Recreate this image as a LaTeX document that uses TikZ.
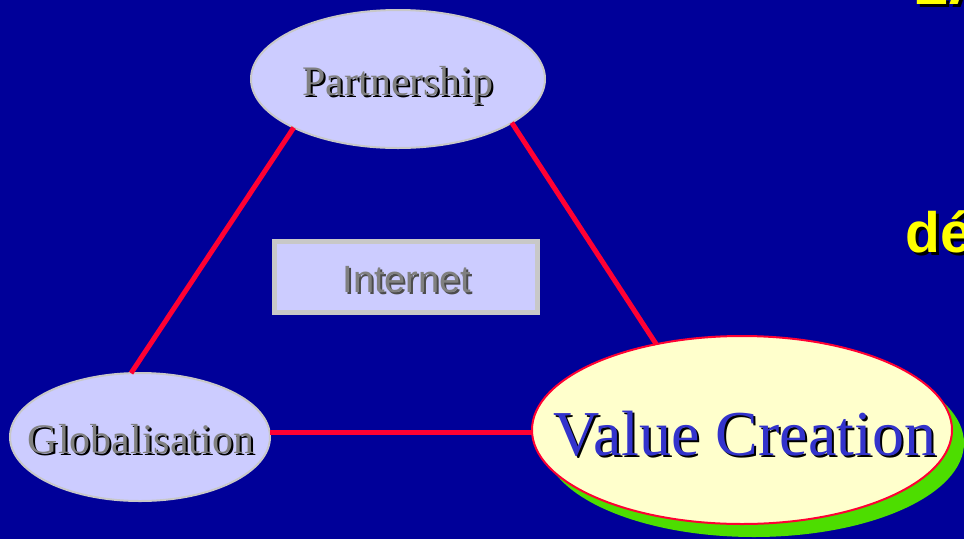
\documentclass[tikz,border=0pt]{standalone}
\usepackage{fontspec}
\setmainfont{Liberation Serif}
\newfontfamily\arialfont{Liberation Sans}
\usetikzlibrary{shapes.geometric}
\definecolor{bg}{RGB}{0,0,153}
\definecolor{lav}{RGB}{204,204,255}
\definecolor{cream}{RGB}{255,255,204}
\definecolor{redline}{RGB}{255,0,51}
\definecolor{greenshadow}{RGB}{77,221,0}
\definecolor{bordergray}{RGB}{200,200,200}
\definecolor{textgray}{RGB}{128,128,128}
\definecolor{vcblue}{RGB}{51,51,204}
\definecolor{ylw}{RGB}{255,255,0}
\tikzset{
  lavell/.style={ellipse, fill=lav, draw=bordergray, line width=2pt, inner sep=0pt, outer sep=0pt},
  link/.style={draw=redline, line width=5pt},
  lbl/.style={inner sep=0pt, anchor=base},
  serif42/.style={font=\fontsize{42}{48}\selectfont},
  serif64/.style={font=\fontsize{64}{72}\selectfont},
  sans38/.style={font=\arialfont\fontsize{38}{44}\selectfont},
  title/.style={font=\arialfont\bfseries\fontsize{57}{64}\selectfont, inner sep=0pt, anchor=base west},
}
\begin{document}
\begin{tikzpicture}[x=1pt,y=-1pt]
\useasboundingbox (0,0) rectangle (964,539);
\clip (0,0) rectangle (964,539);
\fill[bg] (0,0) rectangle (964,539);

% partial yellow title text
\node[title, text=black] at (916,7) {LA};
\node[title, text=ylw] at (913,4) {LA};
\node[title, text=black] at (908,255) {dé};
\node[title, text=ylw] at (905,252) {dé};

% nodes
\node[lavell, minimum width=294pt, minimum height=138pt] (p) at (398,79) {};
\node[lavell, minimum width=260pt, minimum height=128pt] (g) at (140,437) {};
\node[ellipse, fill=greenshadow, inner sep=0pt, outer sep=0pt, minimum width=420pt, minimum height=188pt] (vs) at (754,443) {};
\node[ellipse, fill=cream, draw=redline, line width=2pt, inner sep=0pt, outer sep=0pt, minimum width=420pt, minimum height=188pt] (v) at (742,430) {};
\node[rectangle, fill=lav, draw=bordergray, line width=5pt, inner sep=0pt, outer sep=0pt, minimum width=263pt, minimum height=71pt] (i) at (406,277) {};

% connectors
\draw[link] (p.205) -- (g.98);
\draw[link] (p.339) -- (v.135.6);
\draw[link] (g.2) -- (g.2 -| v.west);

% labels with shadows
\node[lbl, serif42, text=black] at (400,97) {Partnership};
\node[lbl, serif42, text=textgray] at (398,95) {Partnership};
\node[lbl, serif42, text=black] at (143,455) {Globalisation};
\node[lbl, serif42, text=textgray] at (141,453) {Globalisation};
\node[lbl, serif64, text=black] at (747,457) {Value Creation};
\node[lbl, serif64, text=vcblue] at (745,455) {Value Creation};
\node[lbl, sans38, text=black!70] at (409,294) {Internet};
\node[lbl, sans38, text=textgray] at (407,292) {Internet};
\end{tikzpicture}
\end{document}
